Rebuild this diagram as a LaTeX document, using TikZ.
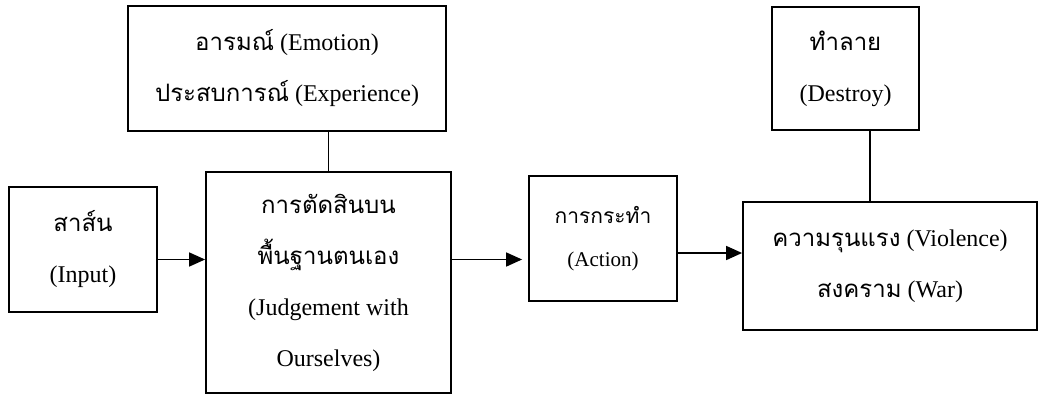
\documentclass[tikz,border=0pt]{standalone}
\usepackage{fontspec}
\setmainfont{Liberation Serif}
\newfontfamily\thaifont[Script=Thai]{Loma}
\newcommand{\thai}[1]{{\thaifont #1}}
\usetikzlibrary{arrows.meta}

\begin{document}
\begin{tikzpicture}[
    x=1pt, y=-1pt,
    box/.style={draw, rectangle, line width=1.8pt, inner sep=0pt, align=center, font=\fontsize{24}{51}\selectfont},
    smallbox/.style={box, font=\fontsize{21}{43}\selectfont},
    arrow/.style={line width=1.6pt, -{Triangle[length=16pt,width=14pt]}},
    link/.style={line width=1.6pt}
]
  \useasboundingbox (0,0) rectangle (1039,394);

  % Nodes left
  \node (input) [box, minimum width=148pt, minimum height=125pt] at (83,249.5) {\thai{สาส์น}\\(Input)};
  \node (judge) [box, minimum width=245pt, minimum height=221pt] at (328.5,282.5) {\thai{การตัดสินบน}\\\thai{พื้นฐานตนเอง}\\(Judgement with\\Ourselves)};
  \node (emotion) [box, minimum width=318pt, minimum height=125pt] at (287,68.5) {\thai{อารมณ์} (Emotion)\\\thai{ประสบการณ์} (Experience)};

  % Nodes right
  \node (action) [smallbox, minimum width=148pt, minimum height=125pt] at (603,238.5) {\thai{การกระทำ}\\(Action)};
  \node (violence) [box, minimum width=294pt, minimum height=128pt] at (890,266) {\thai{ความรุนแรง} (Violence)\\\thai{สงคราม} (War)};
  \node (destroy) [box, minimum width=147pt, minimum height=123pt] at (845.5,68.5) {\thai{ทำลาย}\\(Destroy)};

  % Connectors
  \draw [link] (emotion.south -| judge.north) -- (judge.north);
  \draw [link] ([xshift=24.5pt]destroy.south) -- ([xshift=24.5pt]destroy.south |- violence.north);
  \draw [arrow] ([yshift=-10pt]input.east) -- ([yshift=-10pt]input.east -| judge.west);
  \draw [arrow, shorten >=6pt] ([yshift=23pt]judge.east) -- ([yshift=23pt]judge.east -| action.west);
  \draw [arrow] ([yshift=-14.5pt]action.east) -- ([yshift=-14.5pt]action.east -| violence.west);
\end{tikzpicture}
\end{document}
